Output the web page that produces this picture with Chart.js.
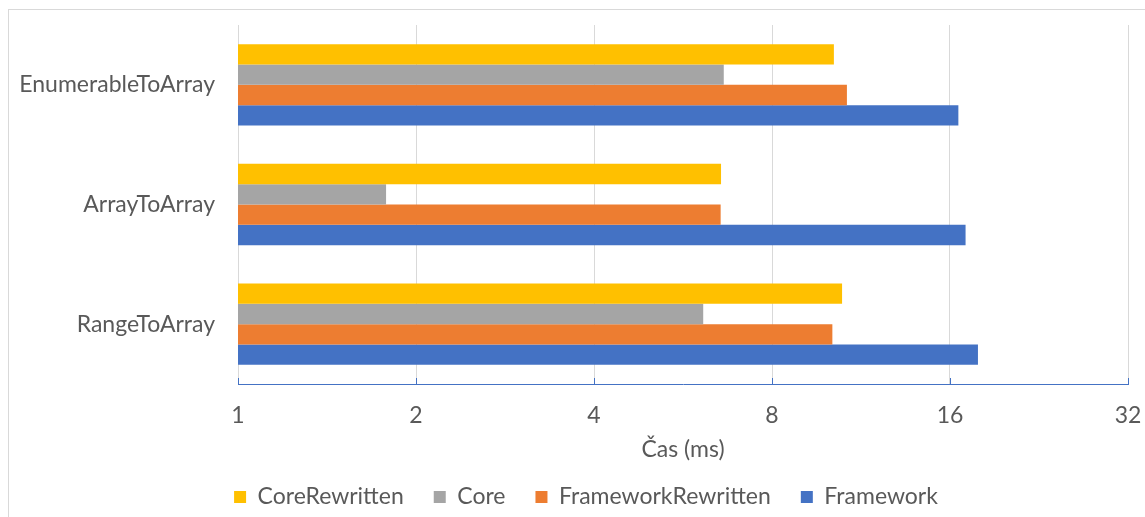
<!DOCTYPE html>
<html>
<head>
<meta charset="utf-8">
<script src="https://cdn.jsdelivr.net/npm/chart.js@4"></script>
<style>
  html, body { margin: 0; padding: 0; background: #fff; }
  #wrap { width: 1145px; height: 517px; }
</style>
</head>
<body>
<div id="wrap"><canvas id="chart" width="1145" height="517"></canvas></div>
<script>
const categories = ['EnumerableToArray', 'ArrayToArray', 'RangeToArray'];
const xTicks = [1, 2, 4, 8, 16, 32];

const coreRewritten = [10.18, 6.56, 10.51];
const core = [6.63, 1.78, 6.12];
const frameworkRewritten = [10.71, 6.55, 10.12];
const framework = [16.53, 17.0, 17.84];

const FONT = 'Lato, "Open Sans", sans-serif';
const TEXT = '#595959';

// light frame around the chart + small ticks above the x axis line
const framePlugin = {
    id: 'frame',
    beforeDraw: (chart) => {
        const c = chart.ctx;
        c.save();
        c.strokeStyle = '#D9D9D9';
        c.lineWidth = 1;
        c.strokeRect(8.5, 9.5, 1145, 520);
        c.restore();
    },
    afterDraw: (chart) => {
        const c = chart.ctx;
        const x = chart.scales.x;
        const bottom = chart.chartArea.bottom;
        c.save();
        c.strokeStyle = '#4472C4';
        c.lineWidth = 1;
        x.ticks.forEach(t => {
            const px = Math.round(x.getPixelForValue(t.value)) + 0.5;
            c.beginPath();
            c.moveTo(px, bottom - 6);
            c.lineTo(px, bottom);
            c.stroke();
        });
        c.restore();
    }
};

const makeSet = (label, data, color) => ({
    label: label,
    data: data,
    backgroundColor: color,
    borderWidth: 0,
    barPercentage: 1.0,
    categoryPercentage: 0.68
});

new Chart(document.getElementById('chart').getContext('2d'), {
    type: 'bar',
    data: {
        labels: categories,
        datasets: [
            makeSet('CoreRewritten', coreRewritten, '#FFC000'),
            makeSet('Core', core, '#A5A5A5'),
            makeSet('FrameworkRewritten', frameworkRewritten, '#ED7D31'),
            makeSet('Framework', framework, '#4472C4')
        ]
    },
    options: {
        indexAxis: 'y',
        responsive: false,
        animation: false,
        layout: {
            // negative right padding only widens the legend box so it centres like the original
            padding: { left: 0, top: 0, bottom: 0, right: -27 }
        },
        scales: {
            x: {
                type: 'logarithmic',
                min: 1,
                max: 32,
                afterBuildTicks: (scale) => {
                    scale.ticks = xTicks.map(v => ({ value: v }));
                },
                afterFit: (scale) => {
                    scale.height = 71.5;
                    scale.paddingLeft = 0;
                    scale.paddingRight = 17;
                },
                ticks: {
                    callback: (v) => String(v),
                    color: TEXT,
                    font: { family: FONT, size: 23, lineHeight: 1 },
                    padding: 20.5,
                    autoSkip: false,
                    maxRotation: 0
                },
                grid: {
                    color: '#D9D9D9',
                    drawTicks: false
                },
                border: { color: '#4472C4', width: 1 },
                title: {
                    display: true,
                    text: 'Čas (ms)',
                    color: TEXT,
                    font: { family: FONT, size: 23, lineHeight: 1 },
                    padding: { top: 11, bottom: -6 }
                }
            },
            y: {
                grid: { display: false, drawTicks: false },
                border: { display: false },
                ticks: {
                    color: TEXT,
                    font: { family: FONT, size: 23, lineHeight: 1 },
                    padding: 23
                },
                afterFit: (scale) => {
                    scale.width = 238;
                    scale.paddingTop = 25;
                    scale.paddingBottom = 0;
                }
            }
        },
        plugins: {
            legend: {
                position: 'bottom',
                maxHeight: 61.5,
                labels: {
                    color: TEXT,
                    font: { family: FONT, size: 23 },
                    boxWidth: 12,
                    boxHeight: 12,
                    padding: 30
                }
            },
            tooltip: { enabled: false }
        }
    },
    plugins: [framePlugin]
});
</script>
</body>
</html>
